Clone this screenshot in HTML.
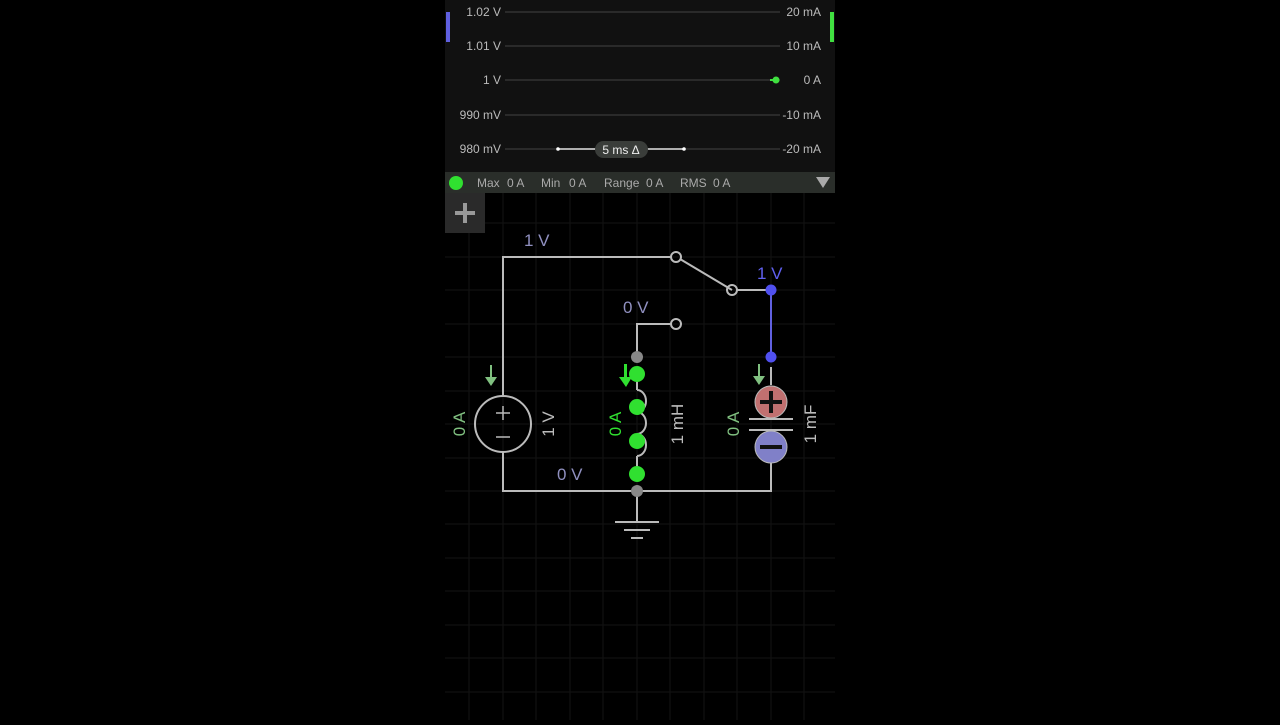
<!DOCTYPE html>
<html><head><style>body{margin:0;background:#000;width:1280px;height:720px;overflow:hidden}</style></head><body>
<svg width="1280" height="720" xmlns="http://www.w3.org/2000/svg" font-family="Liberation Sans, sans-serif">
<rect width="1280" height="720" fill="#000"/>
<g stroke="#131313" stroke-width="1">
<line x1="469" y1="193" x2="469" y2="720"/><line x1="503" y1="193" x2="503" y2="720"/><line x1="536" y1="193" x2="536" y2="720"/><line x1="570" y1="193" x2="570" y2="720"/><line x1="603" y1="193" x2="603" y2="720"/><line x1="637" y1="193" x2="637" y2="720"/><line x1="670" y1="193" x2="670" y2="720"/><line x1="704" y1="193" x2="704" y2="720"/><line x1="737" y1="193" x2="737" y2="720"/><line x1="771" y1="193" x2="771" y2="720"/><line x1="804" y1="193" x2="804" y2="720"/>
<line x1="445" y1="223" x2="835" y2="223"/><line x1="445" y1="257" x2="835" y2="257"/><line x1="445" y1="290" x2="835" y2="290"/><line x1="445" y1="324" x2="835" y2="324"/><line x1="445" y1="357" x2="835" y2="357"/><line x1="445" y1="391" x2="835" y2="391"/><line x1="445" y1="424" x2="835" y2="424"/><line x1="445" y1="458" x2="835" y2="458"/><line x1="445" y1="491" x2="835" y2="491"/><line x1="445" y1="524" x2="835" y2="524"/><line x1="445" y1="558" x2="835" y2="558"/><line x1="445" y1="591" x2="835" y2="591"/><line x1="445" y1="625" x2="835" y2="625"/><line x1="445" y1="658" x2="835" y2="658"/><line x1="445" y1="692" x2="835" y2="692"/>
</g>
<rect x="445" y="0" width="390" height="172" fill="#111"/>
<g stroke="#333" stroke-width="1.5">
<line x1="505" y1="12" x2="780" y2="12"/><line x1="505" y1="46" x2="780" y2="46"/><line x1="505" y1="80" x2="780" y2="80"/><line x1="505" y1="115" x2="780" y2="115"/><line x1="505" y1="149" x2="780" y2="149"/>
</g>
<g fill="#bbb" font-size="12">
<text x="501" y="16" text-anchor="end">1.02 V</text><text x="501" y="50" text-anchor="end">1.01 V</text><text x="501" y="84" text-anchor="end">1 V</text><text x="501" y="119" text-anchor="end">990 mV</text><text x="501" y="153" text-anchor="end">980 mV</text>
<text x="821" y="16" text-anchor="end">20 mA</text><text x="821" y="50" text-anchor="end">10 mA</text><text x="821" y="84" text-anchor="end">0 A</text><text x="821" y="119" text-anchor="end">-10 mA</text><text x="821" y="153" text-anchor="end">-20 mA</text>
</g>
<rect x="446" y="12" width="4" height="30" fill="#6060e0"/>
<rect x="830" y="12" width="4" height="30" fill="#40e040"/>
<line x1="770" y1="80" x2="776" y2="80" stroke="#40e040" stroke-width="2"/><circle cx="776" cy="80" r="3.5" fill="#40e040"/>
<line x1="558" y1="149" x2="684" y2="149" stroke="#ddd" stroke-width="1.5"/>
<circle cx="558" cy="149" r="1.8" fill="#fff"/><circle cx="684" cy="149" r="1.8" fill="#fff"/>
<rect x="595" y="141" width="53" height="17" rx="8.5" fill="#3a3d3a"/>
<text x="621" y="154" fill="#eee" font-size="12" text-anchor="middle">5 ms Δ</text>
<rect x="445" y="172" width="390" height="21" fill="#2a2e2a"/>
<circle cx="456" cy="183" r="7" fill="#30e030"/>
<g fill="#aaa" font-size="12"><text x="477" y="187">Max</text><text x="507" y="187">0 A</text><text x="541" y="187">Min</text><text x="569" y="187">0 A</text><text x="604" y="187">Range</text><text x="646" y="187">0 A</text><text x="680" y="187">RMS</text><text x="713" y="187">0 A</text></g>
<polygon points="816,177 830,177 823,188" fill="#aaa"/>
<rect x="445" y="193" width="40" height="40" fill="#2a2a2a"/>
<path d="M465 203V223M455 213H475" stroke="#999" stroke-width="4"/>
<g stroke="#bbb" stroke-width="2" fill="none">
<path d="M671 257H503V396M503 452V491H771V463M771 385V367M732 290L680 259M737 290H771M671 324H637V357M637 491V521"/>
<circle cx="676" cy="257" r="5"/><circle cx="732" cy="290" r="5"/><circle cx="676" cy="324" r="5"/>
<circle cx="503" cy="424" r="28"/>
<path d="M637 390a9 11 0 0 1 0 22a9 11 0 0 1 0 22a9 11 0 0 1 0 22M637 390V374M637 456V474"/>
<path d="M615 522H659M624 530H650M631 538H643"/>
<path d="M749 419H793M749 430H793"/>
<path d="M496 413H510M503 406V420M496 437H510" stroke-width="1.5"/>
</g>
<line x1="771" y1="290" x2="771" y2="357" stroke="#6060e0" stroke-width="2"/>
<circle cx="771" cy="290" r="5.5" fill="#5050f0"/><circle cx="771" cy="357" r="5.5" fill="#5050f0"/>
<circle cx="637" cy="357" r="6" fill="#888"/><circle cx="637" cy="491" r="6" fill="#888"/>
<g fill="#30e030"><circle cx="637" cy="374" r="8"/><circle cx="637" cy="407" r="8"/><circle cx="637" cy="441" r="8"/><circle cx="637" cy="474" r="8"/></g>
<circle cx="771" cy="402" r="16" fill="#c07070" stroke="#bbb" stroke-width="1"/>
<path d="M760 402H782M771 391V413" stroke="#111" stroke-width="4"/>
<circle cx="771" cy="447" r="16" fill="#8080c8" stroke="#bbb" stroke-width="1"/>
<path d="M760 447H782" stroke="#111" stroke-width="4"/>
<g fill="#80c080"><path d="M490 365V377H485L491 386L497 377H492V365Z"/><path d="M758 364V376H753L759 385L765 376H760V364Z"/></g>
<path d="M624 364V377H619L626 387L632 377H627V364Z" fill="#30e030"/>
<g font-size="17" fill="#9090c0"><text x="524" y="246">1 V</text><text x="623" y="313">0 V</text><text x="557" y="480">0 V</text></g>
<text x="757" y="279" font-size="17" fill="#6060f0">1 V</text>
<g font-size="17"><text transform="translate(465,424) rotate(-90)" text-anchor="middle" fill="#80c080">0 A</text>
<text transform="translate(621,424) rotate(-90)" text-anchor="middle" fill="#30e030">0 A</text>
<text transform="translate(739,424) rotate(-90)" text-anchor="middle" fill="#80c080">0 A</text>
<g fill="#bbb"><text transform="translate(554,424) rotate(-90)" text-anchor="middle">1 V</text>
<text transform="translate(683,424) rotate(-90)" text-anchor="middle">1 mH</text>
<text transform="translate(816,424) rotate(-90)" text-anchor="middle">1 mF</text></g></g>
</svg>
</body></html>
